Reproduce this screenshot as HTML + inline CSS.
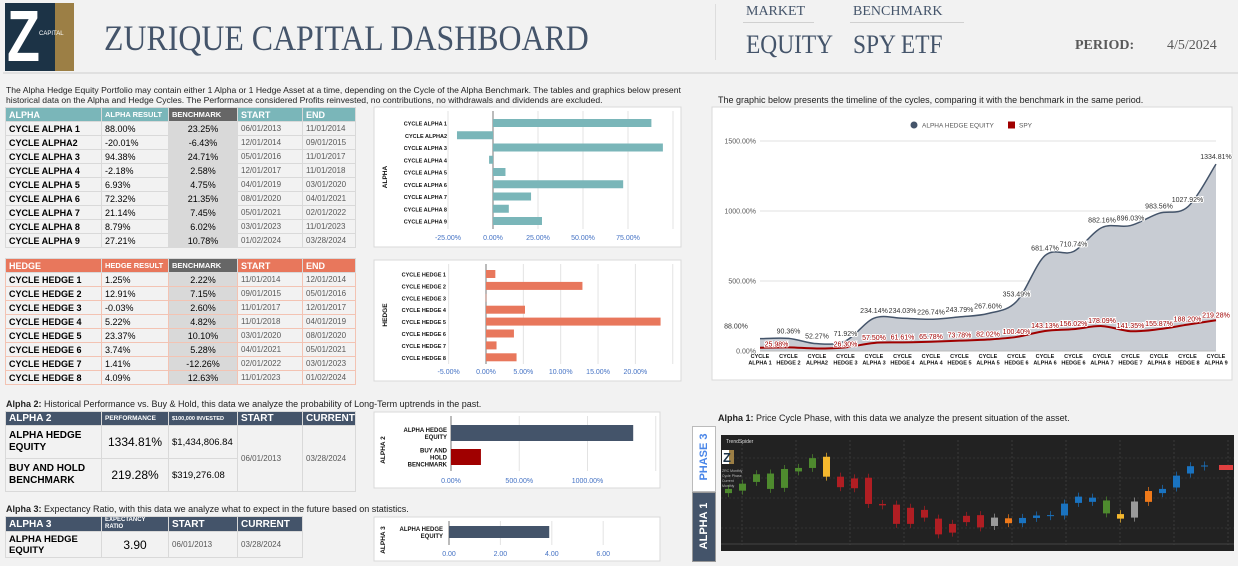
<!DOCTYPE html>
<html><head><meta charset="utf-8">
<style>
*{box-sizing:border-box;margin:0;padding:0}
body{width:1238px;height:566px;background:#f2f2f2;font-family:"Liberation Sans",sans-serif;position:relative;overflow:hidden}
.abs{position:absolute}
.serif{font-family:"Liberation Serif",serif;color:#44546a}
table{border-collapse:collapse;table-layout:fixed;position:absolute}
td,th{border:1px solid #d9d9d9;padding:0 3px;white-space:nowrap;overflow:hidden;text-align:left;background:#f2f2f2}
th{color:#fff;font-size:9px;font-weight:bold;height:14px}
td{height:14px;font-size:9px;color:#000}
td.n{font-weight:bold}
td.b{background:#d9d9d9;text-align:center}
td.d{font-size:8px;color:#595959}
.ta th{background:#7ab6b9}
.th th{background:#e8775c}
.th td{border-color:#f3c3b3}
th.bh{background:#666!important}
.tn th{background:#44546a}
.note{font-size:9px;color:#222;line-height:10px}
</style></head><body>
<!-- header -->
<div class="abs" style="left:5px;top:3px;width:69px;height:68px;background:#1c3346;overflow:hidden">
  <div class="abs" style="left:50px;top:0;width:19px;height:68px;background:#9c7f45"></div>
  <div class="abs" style="left:2px;top:0px;font:bold 72px 'Liberation Sans',sans-serif;color:#fff;line-height:68px;transform:scaleX(0.75);transform-origin:left">Z</div>
  <div class="abs" style="left:34px;top:28px;font-size:6px;color:#fff">CAPITAL</div>
</div>
<div class="abs serif" style="left:104px;top:17px;font-size:36px;transform:scaleX(0.885);transform-origin:left;white-space:nowrap">ZURIQUE CAPITAL DASHBOARD</div>
<div class="abs" style="left:715px;top:4px;width:1px;height:56px;background:#ddd"></div>
<div class="abs serif" style="left:746px;top:4px;font-size:14px">MARKET</div>
<div class="abs" style="left:743px;top:22px;width:71px;height:1px;background:#d0d0d0"></div>
<div class="abs serif" style="left:853px;top:4px;font-size:14px">BENCHMARK</div>
<div class="abs" style="left:850px;top:22px;width:114px;height:1px;background:#d0d0d0"></div>
<div class="abs serif" style="left:746px;top:30px;font-size:26px;transform:scaleX(0.9);transform-origin:left">EQUITY</div>
<div class="abs serif" style="left:853px;top:30px;font-size:26px;transform:scaleX(0.9);transform-origin:left">SPY ETF</div>
<div class="abs serif" style="left:1075px;top:38px;font-size:14px;font-weight:bold;color:#595959">PERIOD:</div>
<div class="abs serif" style="left:1167px;top:38px;font-size:14px;color:#595959">4/5/2024</div>
<div class="abs" style="left:3px;top:72px;width:1235px;height:2px;background:#e0e0e0"></div>

<div class="abs note" style="left:6px;top:85px;width:700px;font-size:8.6px">The Alpha Hedge Equity Portfolio may contain either 1 Alpha or 1 Hedge Asset at a time, depending on the Cycle of the Alpha Benchmark. The tables and graphics below present historical data on the Alpha and Hedge Cycles. The Performance considered Profits reinvested, no contributions, no withdrawals and dividends are excluded.</div>

<table class="ta" style="left:5px;top:107px;width:350px">
<colgroup><col style="width:96px"><col style="width:67px"><col style="width:69px"><col style="width:65px"><col style="width:53px"></colgroup>
<tr><th>ALPHA</th><th style="font-size:7.5px">ALPHA RESULT</th><th class="bh" style="font-size:7.5px">BENCHMARK</th><th>START</th><th>END</th></tr>
<tr><td class="n">CYCLE ALPHA 1</td><td>88.00%</td><td class="b">23.25%</td><td class="d">06/01/2013</td><td class="d">11/01/2014</td></tr>
<tr><td class="n">CYCLE ALPHA2</td><td>-20.01%</td><td class="b">-6.43%</td><td class="d">12/01/2014</td><td class="d">09/01/2015</td></tr>
<tr><td class="n">CYCLE ALPHA 3</td><td>94.38%</td><td class="b">24.71%</td><td class="d">05/01/2016</td><td class="d">11/01/2017</td></tr>
<tr><td class="n">CYCLE ALPHA 4</td><td>-2.18%</td><td class="b">2.58%</td><td class="d">12/01/2017</td><td class="d">11/01/2018</td></tr>
<tr><td class="n">CYCLE ALPHA 5</td><td>6.93%</td><td class="b">4.75%</td><td class="d">04/01/2019</td><td class="d">03/01/2020</td></tr>
<tr><td class="n">CYCLE ALPHA 6</td><td>72.32%</td><td class="b">21.35%</td><td class="d">08/01/2020</td><td class="d">04/01/2021</td></tr>
<tr><td class="n">CYCLE ALPHA 7</td><td>21.14%</td><td class="b">7.45%</td><td class="d">05/01/2021</td><td class="d">02/01/2022</td></tr>
<tr><td class="n">CYCLE ALPHA 8</td><td>8.79%</td><td class="b">6.02%</td><td class="d">03/01/2023</td><td class="d">11/01/2023</td></tr>
<tr><td class="n">CYCLE ALPHA 9</td><td>27.21%</td><td class="b">10.78%</td><td class="d">01/02/2024</td><td class="d">03/28/2024</td></tr>
</table>

<table class="th" style="left:5px;top:258px;width:350px">
<colgroup><col style="width:96px"><col style="width:67px"><col style="width:69px"><col style="width:65px"><col style="width:53px"></colgroup>
<tr><th>HEDGE</th><th style="font-size:7.5px">HEDGE RESULT</th><th class="bh" style="font-size:7.5px">BENCHMARK</th><th>START</th><th>END</th></tr>
<tr><td class="n">CYCLE HEDGE 1</td><td>1.25%</td><td class="b">2.22%</td><td class="d">11/01/2014</td><td class="d">12/01/2014</td></tr>
<tr><td class="n">CYCLE HEDGE 2</td><td>12.91%</td><td class="b">7.15%</td><td class="d">09/01/2015</td><td class="d">05/01/2016</td></tr>
<tr><td class="n">CYCLE HEDGE 3</td><td>-0.03%</td><td class="b">2.60%</td><td class="d">11/01/2017</td><td class="d">12/01/2017</td></tr>
<tr><td class="n">CYCLE HEDGE 4</td><td>5.22%</td><td class="b">4.82%</td><td class="d">11/01/2018</td><td class="d">04/01/2019</td></tr>
<tr><td class="n">CYCLE HEDGE 5</td><td>23.37%</td><td class="b">10.10%</td><td class="d">03/01/2020</td><td class="d">08/01/2020</td></tr>
<tr><td class="n">CYCLE HEDGE 6</td><td>3.74%</td><td class="b">5.28%</td><td class="d">04/01/2021</td><td class="d">05/01/2021</td></tr>
<tr><td class="n">CYCLE HEDGE 7</td><td>1.41%</td><td class="b">-12.26%</td><td class="d">02/01/2022</td><td class="d">03/01/2023</td></tr>
<tr><td class="n">CYCLE HEDGE 8</td><td>4.09%</td><td class="b">12.63%</td><td class="d">11/01/2023</td><td class="d">01/02/2024</td></tr>
</table>

<div class="abs note" style="left:6px;top:399px"><b>Alpha 2:</b> Historical Performance vs. Buy &amp; Hold, this data we analyze the probability of Long-Term uptrends in the past.</div>
<table class="tn" style="left:5px;top:411px;width:350px">
<colgroup><col style="width:96px"><col style="width:67px"><col style="width:69px"><col style="width:65px"><col style="width:53px"></colgroup>
<tr><th style="font-size:10px">ALPHA 2</th><th style="font-size:6.5px">PERFORMANCE</th><th style="font-size:5.5px">$100,000 INVESTED</th><th style="font-size:10px">START</th><th style="font-size:10px">CURRENT</th></tr>
<tr><td class="n" style="height:33px;font-size:10px;white-space:normal;line-height:12px">ALPHA HEDGE EQUITY</td><td style="font-size:12px;text-align:center">1334.81%</td><td style="font-size:9.5px">$1,434,806.84</td><td class="d" rowspan="2">06/01/2013</td><td class="d" rowspan="2">03/28/2024</td></tr>
<tr><td class="n" style="height:33px;font-size:10px;white-space:normal;line-height:12px">BUY AND HOLD BENCHMARK</td><td style="font-size:12px;text-align:center">219.28%</td><td style="font-size:9.5px">$319,276.08</td></tr>
</table>

<div class="abs note" style="left:6px;top:504px"><b>Alpha 3:</b> Expectancy Ratio, with this data we analyze what to expect in the future based on statistics.</div>
<table class="tn" style="left:5px;top:516px;width:297px">
<colgroup><col style="width:96px"><col style="width:67px"><col style="width:69px"><col style="width:65px"></colgroup>
<tr><th style="font-size:10px">ALPHA 3</th><th style="font-size:6px;line-height:7px;white-space:normal">EXPECTANCY RATIO</th><th style="font-size:10px">START</th><th style="font-size:10px">CURRENT</th></tr>
<tr><td class="n" style="height:26px;font-size:9.5px;white-space:normal;line-height:11px">ALPHA HEDGE EQUITY</td><td style="font-size:12px;text-align:center">3.90</td><td class="d">06/01/2013</td><td class="d">03/28/2024</td></tr>
</table>

<div class="abs note" style="left:718px;top:95px">The graphic below presents the timeline of the cycles, comparing it with the benchmark in the same period.</div>
<div class="abs note" style="left:718px;top:413px"><b>Alpha 1:</b> Price Cycle Phase, with this data we analyze the present situation of the asset.</div>

<div class="abs" style="left:692px;top:426px;width:24px;height:66px;background:#fff;border:1px solid #bbb">
 <div class="abs" style="left:-22px;top:24px;width:66px;text-align:center;transform:rotate(-90deg);color:#4a86e8;font-weight:bold;font-size:11px">PHASE 3</div></div>
<div class="abs" style="left:692px;top:492px;width:24px;height:70px;background:#44546a;border:1px solid #999">
 <div class="abs" style="left:-23px;top:27px;width:68px;text-align:center;transform:rotate(-90deg);color:#fff;font-weight:bold;font-size:11px">ALPHA 1</div></div>

<svg id="svg" class="abs" style="left:0;top:0" width="1238" height="566" xmlns="http://www.w3.org/2000/svg" font-family="Liberation Sans, sans-serif"></svg>

<script>
// ---- data ----
const alphaCats=["CYCLE ALPHA 1","CYCLE ALPHA2","CYCLE ALPHA 3","CYCLE ALPHA 4","CYCLE ALPHA 5","CYCLE ALPHA 6","CYCLE ALPHA 7","CYCLE ALPHA 8","CYCLE ALPHA 9"];
const alphaVals=[88.00,-20.01,94.38,-2.18,6.93,72.32,21.14,8.79,27.21];
const alphaTicks=[-25,0,25,50,75,100];
const hedgeCats=["CYCLE HEDGE 1","CYCLE HEDGE 2","CYCLE HEDGE 3","CYCLE HEDGE 4","CYCLE HEDGE 5","CYCLE HEDGE 6","CYCLE HEDGE 7","CYCLE HEDGE 8"];
const hedgeVals=[1.25,12.91,-0.03,5.22,23.37,3.74,1.41,4.09];
const hedgeTicks=[-5,0,5,10,15,20,25];
const a2Cats=[["ALPHA HEDGE","EQUITY"],["BUY AND","HOLD","BENCHMARK"]];
const a2Vals=[1334.81,219.28];
const a2Ticks=[0,500,1000,1500];
const a3Cats=[["ALPHA HEDGE","EQUITY"]];
const a3Vals=[3.90];
const a3Ticks=[0,2,4,6];
const tlCats=[["CYCLE","ALPHA 1"],["CYCLE","HEDGE 2"],["CYCLE","ALPHA2"],["CYCLE","HEDGE 3"],["CYCLE","ALPHA 3"],["CYCLE","HEDGE 4"],["CYCLE","ALPHA 4"],["CYCLE","HEDGE 5"],["CYCLE","ALPHA 5"],["CYCLE","HEDGE 6"],["CYCLE","ALPHA 6"],["CYCLE","HEDGE 6"],["CYCLE","ALPHA 7"],["CYCLE","HEDGE 7"],["CYCLE","ALPHA 8"],["CYCLE","HEDGE 8"],["CYCLE","ALPHA 9"]];
const equityVals=[88.00,90.36,52.27,71.92,234.14,234.03,226.74,243.79,267.60,353.49,681.47,710.74,882.16,896.03,983.56,1027.92,1334.81];
const spyVals=[23.25,25.98,17.89,26.30,57.50,61.61,65.78,73.78,82.02,100.40,143.13,156.02,178.09,141.35,155.87,188.20,219.28];
const tlTicks=[0,500,1000,1500];
// candle data (relative price units)
const candleOpen =[148,155,180,160,163,210,220,195,195,190,192,117,115,106,100,75,60,83,85,78,76,77,84,83,118,138,135,127,88,124,154,160,198,225,227];
const candleClose=[160,175,202,204,217,220,248,252,165,162,117,113,60,60,78,30,35,65,50,54,62,62,77,85,84,120,123,90,75,78,123,148,164,204,225];
const candleColor=["g","g","g","g","g","g","g","y","r","r","r","r","r","r","r","r","r","r","r","x","o","b","b","b","b","b","b","g","y","x","o","b","b","b","b"];

const S=document.getElementById('svg');const NS='http://www.w3.org/2000/svg';
function el(t,a,p){const e=document.createElementNS(NS,t);for(const k in a)e.setAttribute(k,a[k]);(p||S).appendChild(e);return e;}
function txt(x,y,s,a){const e=el('text',Object.assign({x:x,y:y},a));e.textContent=s;return e;}
function fmt(v,d){return v.toFixed(d)+'%';}

function hbar(o){
  const box=el('rect',{x:o.bx,y:o.by,width:o.bw,height:o.bh,fill:'#fff',stroke:'#d9d9d9'});
  
  
  const sx=v=>o.x0+v*o.k;
  o.ticks.forEach(t=>{
    el('line',{x1:sx(t),x2:sx(t),y1:o.by+4,y2:o.axisY,stroke:t===0?'#777':'#e3e3e3','stroke-width':1});
    const tl=txt(sx(t),o.tickY,o.tf(t),{'font-size':7,fill:'#4472c4','text-anchor':'middle'});
    
    
  });
  o.vals.forEach((v,i)=>{
    const cy=o.y0+i*o.step;
    const r=el('rect',{x:Math.min(sx(0),sx(v)),y:cy-o.h/2,width:Math.max(Math.abs(sx(v)-sx(0)),0.5),height:o.h,fill:(o.colors?o.colors[i]:o.color)});
    
    
    const lines=Array.isArray(o.cats[i])?o.cats[i]:[o.cats[i]];
    lines.forEach((s,j)=>{
      const c=txt(o.lx,cy+2.5+(j-(lines.length-1)/2)*o.lh,s,{'font-size':o.lf,'font-weight':'bold',fill:'#111','text-anchor':'end'});
      
      
    });
  });
  const at=txt(0,0,o.title,{'font-size':6.5,'font-weight':'bold',fill:'#111','text-anchor':'middle',transform:`translate(${o.tx},${o.ty}) rotate(-90)`});
  
  
}
hbar({name:'alpha-chart',bx:374,by:107,bw:307,bh:140,x0:493,k:1.8,ticks:alphaTicks,tf:t=>t===100?'':t.toFixed(2)+'%',axisY:229,tickY:240,vals:alphaVals,cats:alphaCats,y0:123,step:12.25,h:8,color:'#7ab6b9',lx:447,lf:5.5,lh:6,title:'ALPHA',tx:387,ty:177});
hbar({name:'hedge-chart',bx:374,by:260,bw:307,bh:121,x0:486,k:7.47,ticks:hedgeTicks,tf:t=>t===25?'':t.toFixed(2)+'%',axisY:364,tickY:374,vals:hedgeVals,cats:hedgeCats,y0:274,step:11.9,h:8,color:'#e8775c',lx:446,lf:5.5,lh:6,title:'HEDGE',tx:387,ty:315});
hbar({name:'alpha2-chart',bx:374,by:412,bw:286,bh:76,x0:451,k:0.1365,ticks:a2Ticks,tf:t=>t===1500?'':t.toFixed(2)+'%',axisY:471,tickY:483,vals:a2Vals,cats:a2Cats,y0:433,step:24,h:16,colors:['#44546a','#a00000'],lx:447,lf:6,lh:7,title:'ALPHA 2',tx:385,ty:450});
hbar({name:'alpha3-chart',bx:374,by:517,bw:286,bh:44,x0:449,k:25.7,ticks:a3Ticks,tf:t=>t.toFixed(2),axisY:545,tickY:556,vals:a3Vals,cats:a3Cats,y0:532,step:12,h:12,color:'#44546a',lx:443,lf:6,lh:7,title:'ALPHA 3',tx:385,ty:540});

// ---- timeline chart ----
{
const box=el('rect',{x:712,y:107,width:520,height:273,fill:'#fff',stroke:'#d9d9d9'});


const X=i=>760+i*(1216-760)/(tlCats.length-1);
const Y=v=>351-v*210/1500;
tlTicks.forEach(t=>{
  el('line',{x1:760,x2:1216,y1:Y(t),y2:Y(t),stroke:'#e0e0e0'});
  const l=txt(756,Y(t)+2.5,t.toFixed(2)+'%',{'font-size':7,fill:'#595959','text-anchor':'end'});
  
  
});
function smooth(vals){
  const p=vals.map((v,i)=>[X(i),Y(v)]);let d=`M${p[0][0]},${p[0][1]}`;
  for(let i=0;i<p.length-1;i++){const p0=p[Math.max(i-1,0)],p1=p[i],p2=p[i+1],p3=p[Math.min(i+2,p.length-1)];
    d+=` C${p1[0]+(p2[0]-p0[0])/6},${p1[1]+(p2[1]-p0[1])/6} ${p2[0]-(p3[0]-p1[0])/6},${p2[1]-(p3[1]-p1[1])/6} ${p2[0]},${p2[1]}`;}
  return d;}
const eq=smooth(equityVals);
const area=el('path',{d:eq+` L${X(equityVals.length-1)},${Y(0)} L${X(0)},${Y(0)} Z`,fill:'#c8ccd3'});


const eqL=el('path',{d:eq,fill:'none',stroke:'#44546a','stroke-width':1.5});


const sp=el('path',{d:smooth(spyVals),fill:'none',stroke:'#a00000','stroke-width':2});


el('line',{x1:760,x2:1216,y1:Y(0),y2:Y(0),stroke:'#bbb'});
equityVals.forEach((v,i)=>{
  const l=txt(X(i)+(i===0?-24:0),Y(v)-(i===0?10:5),fmt(v,2),{'font-size':7,fill:'#333','text-anchor':'middle',stroke:'#fff','stroke-width':2,'paint-order':'stroke'});
  
  
});
spyVals.forEach((v,i)=>{
  if(i===0||i===2)return;
  const l=txt(X(i)+(i===1?-12:0),Y(v)+(i<4?-1:-3),fmt(v,2),{'font-size':7,fill:'#a00000','text-anchor':'middle',stroke:'#fff','stroke-width':2,'paint-order':'stroke'});
  
  
});
tlCats.forEach((c,i)=>{c.forEach((s,j)=>{
  const l=txt(X(i),358+j*6.5,s,{'font-size':5.5,'font-weight':'bold',fill:'#111','text-anchor':'middle'});
  
  
});});
const lc=el('circle',{cx:914,cy:125,r:3.5,fill:'#44546a'});


txt(922,127.5,'ALPHA HEDGE EQUITY',{'font-size':6.5,fill:'#595959'});
const ls=el('rect',{x:1008,y:121.5,width:7,height:7,fill:'#a00000'});


txt(1019,127.5,'SPY',{'font-size':6.5,fill:'#595959'});
}

// ---- candlestick image ----
{
const bg=el('rect',{x:721,y:435,width:513,height:116,fill:'#222'});


for(let k=0;k<10;k++){el('line',{x1:742+k*54,x2:742+k*54,y1:440,y2:545,stroke:'#3a3a3a','stroke-dasharray':'2,2'});}
[458,478,498,528].forEach(y=>el('line',{x1:721,x2:1234,y1:y,y2:y,stroke:'#333','stroke-dasharray':'2,2'}));
el('line',{x1:721,x2:1234,y1:544,y2:544,stroke:'#444'});
const cmap={g:'#4e8a2e',y:'#f5b82e',r:'#b01e23',x:'#9a9a9a',o:'#f07a1a',b:'#1a73c0'};
const PY=p=>405+(400-p)/2.86;
const CX=i=>728.5+i*14;
candleOpen.forEach((o,i)=>{
  const c=candleClose[i];const top=Math.min(PY(o),PY(c));const h=Math.max(Math.abs(PY(o)-PY(c)),1);
  el('line',{x1:CX(i),x2:CX(i),y1:top-4,y2:top+h+4,stroke:cmap[candleColor[i]],'stroke-width':0.7});
  const r=el('rect',{x:CX(i)-3.5,y:top,width:7,height:h,fill:cmap[candleColor[i]]});
  
  
});
txt(726,443,'TrendSpider',{'font-size':5,fill:'#ddd'});
el('rect',{x:722,y:450,width:10,height:14,fill:'#fff'});
el('rect',{x:729,y:450,width:5,height:14,fill:'#9c7f45'});
txt(723,462,'Z',{'font-size':13,'font-weight':'bold',fill:'#1c3346'});
['ZRC Monthly','Cycle Phase','Current','Monthly'].forEach((s,i)=>txt(722,472+i*5,s,{'font-size':3.5,fill:'#bbb'}));
el('rect',{x:1219,y:465,width:14,height:5,fill:'#e04040'});
}
</script>
</body></html>
